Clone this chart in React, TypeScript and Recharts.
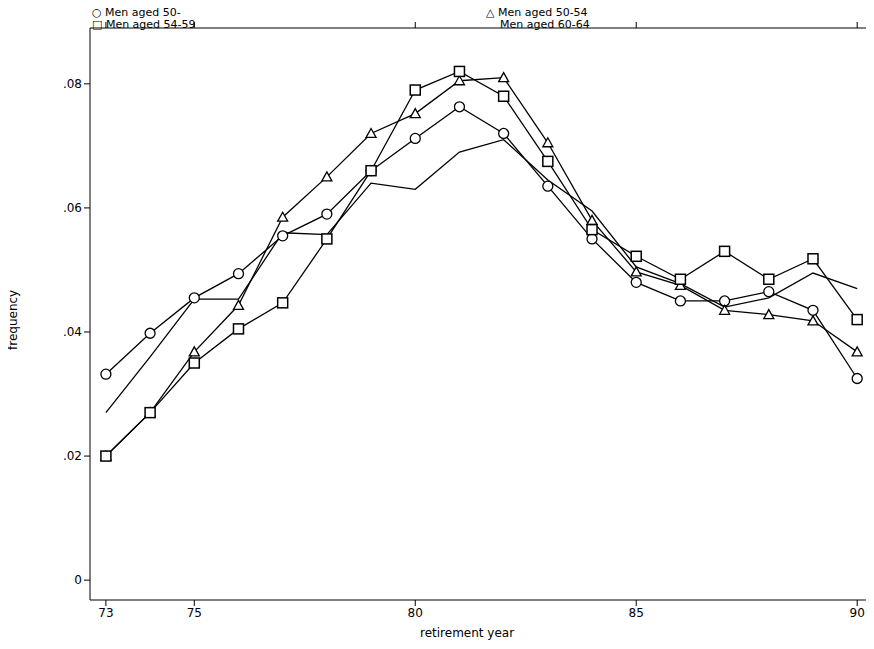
import { LineChart, Line, XAxis, YAxis } from "recharts";

const years = [73, 74, 75, 76, 77, 78, 79, 80, 81, 82, 83, 84, 85, 86, 87, 88, 89, 90];
const men50 = [0.0332, 0.0398, 0.0455, 0.0494, 0.0555, 0.059, 0.066, 0.0712, 0.0763, 0.072, 0.0635, 0.055, 0.048, 0.045, 0.045, 0.0465, 0.0435, 0.0325];
const men5054 = [0.02, 0.027, 0.0368, 0.0443, 0.0585, 0.065, 0.072, 0.0752, 0.0805, 0.081, 0.0705, 0.058, 0.0497, 0.0475, 0.0435, 0.0428, 0.0418, 0.0368];
const men5459 = [0.02, 0.027, 0.035, 0.0405, 0.0447, 0.055, 0.066, 0.079, 0.082, 0.078, 0.0675, 0.0565, 0.0522, 0.0485, 0.053, 0.0485, 0.0518, 0.042];
const men6064 = [0.027, 0.036, 0.0453, 0.0453, 0.056, 0.0557, 0.064, 0.063, 0.069, 0.071, 0.0645, 0.0595, 0.0505, 0.0478, 0.044, 0.0455, 0.0495, 0.047];
const xTicks = [73, 75, 80, 85, 90];
const yTicks = [0, 0.02, 0.04, 0.06, 0.08];

const data = years.map((y, i) => ({ year: y, a: men50[i], b: men5054[i], c: men5459[i], d: men6064[i] }));

const FONT = "'DejaVu Sans', sans-serif";

const CircleDot = (p: any) => <circle cx={p.cx} cy={p.cy} r={5} fill="#fff" stroke="#000" strokeWidth={1.3} />;
const SquareDot = (p: any) => <rect x={p.cx - 5} y={p.cy - 5} width={10} height={10} fill="#fff" stroke="#000" strokeWidth={1.5} />;
const TriDot = (p: any) => (
  <polygon points={`${p.cx},${p.cy - 5} ${p.cx - 5},${p.cy + 4} ${p.cx + 5},${p.cy + 4}`} fill="#fff" stroke="#000" strokeWidth={1.3} />
);

const yFmt = (v: number) => (v === 0 ? "0" : v.toFixed(2).replace(/^0/, ""));

export default function App() {
  return (
    <div style={{ position: "relative", margin: -8, width: 874, height: 649, background: "#fff", fontFamily: FONT }}>
      <LineChart width={874} height={649} data={data} margin={{ top: 20, right: 4, bottom: 19, left: 50 }}>
        <XAxis
          dataKey="year"
          type="number"
          domain={[72.64, 90.29]}
          ticks={xTicks}
          allowDataOverflow
          height={30}
          stroke="#000"
          tickSize={6}
          tick={{ fill: "#000", fontSize: 12, fontFamily: FONT }}
        />
        <XAxis
          xAxisId="top"
          orientation="top"
          dataKey="year"
          type="number"
          domain={[72.64, 90.29]}
          ticks={xTicks}
          allowDataOverflow
          height={8}
          stroke="#000"
          tickSize={6}
          tick={() => <g />}
        />
        <YAxis
          type="number"
          domain={[-0.0032, 0.089]}
          ticks={yTicks}
          allowDataOverflow
          width={40}
          stroke="#000"
          tickSize={6}
          tickFormatter={yFmt}
          tick={{ fill: "#000", fontSize: 12, fontFamily: FONT }}
        />
        <Line dataKey="d" stroke="#000" strokeWidth={1.3} dot={false} isAnimationActive={false} />
        <Line dataKey="a" stroke="#000" strokeWidth={1.3} dot={<CircleDot />} isAnimationActive={false} />
        <Line dataKey="b" stroke="#000" strokeWidth={1.3} dot={<TriDot />} isAnimationActive={false} />
        <Line dataKey="c" stroke="#000" strokeWidth={1.3} dot={<SquareDot />} isAnimationActive={false} />
      </LineChart>
      <div style={{ position: "absolute", left: 869, top: 28, width: 1, height: 572, background: "#000" }} />
      <div style={{ position: "absolute", left: 92, top: 7, fontSize: 11, lineHeight: "12px" }}>
        <div>○ Men aged 50-</div>
        <div>□ Men aged 54-59</div>
      </div>
      <div style={{ position: "absolute", left: 486, top: 7, fontSize: 11, lineHeight: "12px" }}>
        <div>△ Men aged 50-54</div>
        <div style={{ paddingLeft: 14 }}>Men aged 60-64</div>
      </div>
      <div style={{ position: "absolute", left: 6, top: 320, transform: "rotate(-90deg)", transformOrigin: "0 0", fontSize: 12 }}>
        <span style={{ position: "relative", left: -30 }}>frequency</span>
      </div>
      <div style={{ position: "absolute", left: 420, top: 626, fontSize: 12 }}>retirement year</div>
    </div>
  );
}
